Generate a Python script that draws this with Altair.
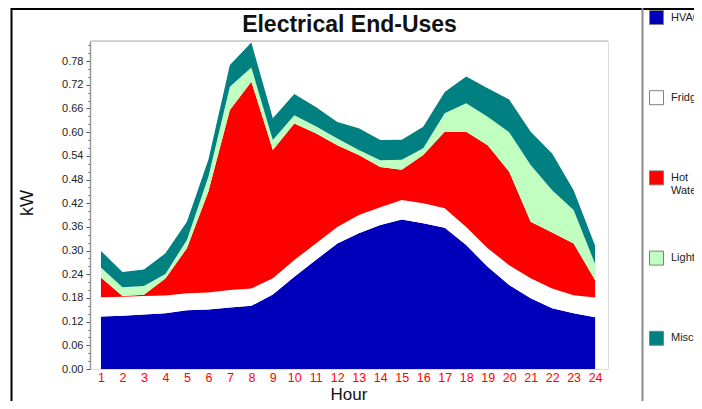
import altair as alt
import pandas as pd

hours = list(range(1, 25))
series = ["HVAC", "Fridge", "Hot Water", "Lights", "Miscellaneous"]
colors = ["#0000BB", "#FFFFFF", "#FF0000", "#C0FFC0", "#008080"]

hvac = [0.133, 0.135, 0.138, 0.141, 0.149, 0.151, 0.156, 0.160, 0.189, 0.234, 0.276, 0.318,
        0.344, 0.365, 0.379, 0.369, 0.358, 0.314, 0.259, 0.213, 0.179, 0.154, 0.141, 0.131]
fridge = [0.049, 0.048, 0.047, 0.045, 0.043, 0.043, 0.044, 0.044, 0.041, 0.042, 0.042, 0.042,
          0.046, 0.045, 0.049, 0.051, 0.049, 0.046, 0.047, 0.050, 0.051, 0.050, 0.046, 0.050]
hot_water = [0.050, 0.002, 0.003, 0.043, 0.114, 0.256, 0.456, 0.524, 0.325, 0.346, 0.279, 0.207,
             0.152, 0.102, 0.077, 0.122, 0.194, 0.241, 0.261, 0.237, 0.143, 0.142, 0.131, 0.044]
lights = [0.025, 0.022, 0.022, 0.012, 0.021, 0.037, 0.059, 0.036, 0.025, 0.021, 0.018, 0.017,
          0.013, 0.017, 0.025, 0.017, 0.047, 0.072, 0.072, 0.100, 0.144, 0.107, 0.085, 0.041]
misc = [0.042, 0.039, 0.042, 0.052, 0.046, 0.043, 0.055, 0.063, 0.055, 0.054, 0.049, 0.042,
        0.055, 0.051, 0.051, 0.055, 0.054, 0.068, 0.072, 0.083, 0.084, 0.093, 0.050, 0.046]

y_ticks = [round(i * 0.02, 2) for i in range(42)]

chart_title = "Electrical End-Uses"
x_title = "Hour"
y_title = "kW"

rows = []
for k, (name, vals) in enumerate(zip(series, [hvac, fridge, hot_water, lights, misc])):
    for h, v in zip(hours, vals):
        rows.append({"Hour": h, "series": name, "kW": v, "k": k})
df = pd.DataFrame(rows)

FONT = "Liberation Sans"
W, H = 518, 328

area = alt.Chart(df).mark_area(interpolate="linear", opacity=1).encode(
    x=alt.X("Hour:Q",
            scale=alt.Scale(domain=[0.49, 24.6], nice=False, zero=False),
            axis=alt.Axis(values=hours, labelColor="#FF0000", labelFontSize=12.5, labelFont=FONT,
                          ticks=False, domain=False, grid=False, labelPadding=2,
                          labelFlush=False, labelOverlap=False, title=None)),
    y=alt.Y("kW:Q", stack="zero",
            scale=alt.Scale(domain=[0, 0.831], nice=False),
            axis=alt.Axis(values=y_ticks, grid=False,
                          labelExpr="round(datum.value*100) % 6 == 0 ? format(datum.value, '.2f') : ''",
                          tickSize={"condition": {"test": "round(datum.value*100) % 6 == 0", "value": 4}, "value": 2},
                          tickColor="#555555", domainColor="#9a9a9a", domainWidth=1.5,
                          labelFont=FONT, labelFontSize=11, labelColor="#222222", labelPadding=3,
                          labelOverlap=False, title=None)),
    color=alt.Color("series:N",
                    scale=alt.Scale(domain=series, range=colors),
                    legend=alt.Legend(orient="none", legendX=559, legendY=-31, title=None,
                                      symbolType="square", symbolSize=196,
                                      symbolStrokeColor="#808080", symbolStrokeWidth=1,
                                      symbolOpacity=1, labelFont=FONT, labelFontSize=11,
                                      labelColor="#222222", labelOffset=7, rowPadding=52.2,
                                      gridAlign="all", padding=0, labelLimit=300,
                                      labelExpr="datum.label == 'Hot Water' ? ['Hot', 'Water'] : datum.label")),
    order=alt.Order("k:Q", sort="ascending"),
)

one = alt.Data(values=[{}])
top_line = alt.Chart(one).mark_rule(color="#c8c8c8", strokeWidth=1.5).encode(
    x=alt.value(0), x2=alt.value(W), y=alt.value(0))
frame_top = alt.Chart(one).mark_rule(color="#000000", strokeWidth=2).encode(
    x=alt.value(-79), x2=alt.value(612), y=alt.value(-32))
frame_left = alt.Chart(one).mark_rule(color="#000000", strokeWidth=2).encode(
    x=alt.value(-78.5), y=alt.value(-33), y2=alt.value(362))
divider = alt.Chart(one).mark_rule(color="#8c8c8c", strokeWidth=2).encode(
    x=alt.value(552.5), y=alt.value(-33), y2=alt.value(362))

title_txt = alt.Chart(one).mark_text(text=chart_title, font=FONT, fontSize=23, fontWeight="bold",
                                     color="#111111", align="center", baseline="alphabetic").encode(
    x=alt.value(W / 2 + 0.5), y=alt.value(-9))
xt_txt = alt.Chart(one).mark_text(text=x_title, font=FONT, fontSize=17, color="#111111",
                                  align="center", baseline="alphabetic").encode(
    x=alt.value(W / 2), y=alt.value(358.5))
yt_txt = alt.Chart(one).mark_text(text=y_title, font=FONT, fontSize=18, color="#111111",
                                  align="center", baseline="alphabetic", angle=270).encode(
    x=alt.value(-57), y=alt.value(162))

chart = alt.layer(area, top_line, frame_top, frame_left, divider, title_txt, xt_txt, yt_txt).properties(
    width=W, height=H,
    autosize=alt.AutoSizeParams(type="none"),
    padding={"left": 82, "top": 33, "right": 86, "bottom": 32},
).configure_view(stroke=None).configure(background="white")

chart.save("out.html", embed_options={"renderer": "svg", "actions": False})
